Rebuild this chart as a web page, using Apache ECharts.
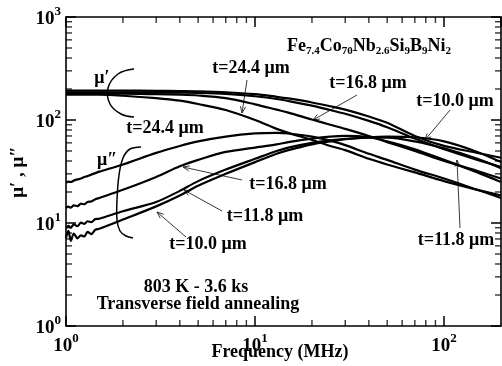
<!DOCTYPE html>
<html><head><meta charset="utf-8">
<script src="https://cdn.jsdelivr.net/npm/echarts@6/dist/echarts.min.js"></script>
<style>html,body{margin:0;padding:0;background:#fff}#c{width:502px;height:366px}</style>
</head><body><div id="c"></div>
<script>
// ---------- data (frequency in MHz, permeability values) ----------
const lowFreqMHz = [1, 1.03, 1.06, 1.1, 1.15, 1.2, 1.25, 1.3, 1.36, 1.43];
const freqMHz = [1.5, 2, 3, 4, 5, 7, 10, 13, 15, 20, 25, 30, 40, 50, 70, 100, 150, 200];

// μ′ (real part)
const muReal_t100_low = [193, 193, 193, 193, 193, 193, 193, 193, 193, 193];
const muReal_t100 = [193, 193, 192, 191, 190, 186, 178, 168, 162, 148, 136, 126, 108, 94, 70, 56, 48, 43];
const muReal_t118_low = [186, 186, 186, 186, 186, 186, 186, 186, 186, 186];
const muReal_t118 = [186, 186, 185, 184, 183, 179, 170, 160, 153, 138, 125, 115, 98, 85, 66, 52, 41, 35];
const muReal_t168_low = [180, 180, 180, 180, 180, 180, 180, 180, 180, 180];
const muReal_t168 = [180, 180, 178, 176, 173, 163, 142, 126, 118, 101, 90, 82, 70, 61, 50, 40, 32, 27];
const muReal_t244_low = [176, 176, 176, 176, 176, 176, 176, 176, 176, 176];
const muReal_t244 = [176, 172, 163, 154, 143, 125, 100, 82, 75, 64, 56, 51, 42, 37, 31, 25.5, 21, 18.5];

// μ″ (imaginary part)
const muImag_t244_low = [24.5, 25.2, 25, 25.8, 26.5, 27, 28, 28.5, 29.5, 30.5];
const muImag_t244 = [31.5, 37, 48, 56, 62, 69, 74, 75, 74, 69, 63, 57, 47, 41, 33, 27, 21, 17.5];
const muImag_t168_low = [14, 14.4, 14.1, 14.8, 14.6, 15.4, 15.2, 16, 16.2, 17];
const muImag_t168 = [17.5, 21, 28, 35.5, 41, 49, 54, 58, 61, 66, 69, 70, 68, 62, 52, 41, 31, 25];
const muImag_t118_low = [8.9, 9.4, 9.0, 9.7, 9.3, 10.1, 9.8, 10.4, 10.2, 10.9];
const muImag_t118 = [11, 13, 16, 20.5, 25.5, 33, 42, 50, 54, 60, 63.5, 65.5, 67.5, 67.5, 62, 53, 42, 34];
const muImag_t100_low = [7.2, 8.4, 6.7, 7.9, 7.1, 7.6, 7.4, 8.2, 7.8, 8.6];
const muImag_t100 = [8.8, 10.8, 14.5, 18.5, 23, 30, 39, 47, 51, 58, 62, 65, 68, 69, 68, 62, 49, 39];

// tick values
const xMinorTicks = [2, 3, 4, 5, 6, 7, 8, 9, 20, 30, 40, 50, 60, 70, 80, 90];
const yMinorTicks = [2, 3, 4, 5, 6, 7, 8, 9, 20, 30, 40, 50, 60, 70, 80, 90, 200, 300, 400, 500, 600, 700, 800, 900];

// ---------- chart ----------
const FONT = 'Liberation Serif';
const X_MIN = 1, X_MAX = 200, Y_MIN = 1, Y_MAX = 1000;
function pairs(lowV, mainV) {
  return lowFreqMHz.map((f, i) => [f, lowV[i]]).concat(freqMHz.map((f, i) => [f, mainV[i]]));
}
const curves = [
  ['μ′ t=10.0 μm', muReal_t100_low, muReal_t100],
  ['μ′ t=11.8 μm', muReal_t118_low, muReal_t118],
  ['μ′ t=16.8 μm', muReal_t168_low, muReal_t168],
  ['μ′ t=24.4 μm', muReal_t244_low, muReal_t244],
  ['μ″ t=24.4 μm', muImag_t244_low, muImag_t244],
  ['μ″ t=16.8 μm', muImag_t168_low, muImag_t168],
  ['μ″ t=11.8 μm', muImag_t118_low, muImag_t118],
  ['μ″ t=10.0 μm', muImag_t100_low, muImag_t100]
];

function powLabel(v) {
  const e = Math.log10(v);
  if (Math.abs(e - Math.round(e)) > 1e-6) return '';
  return '{b|10}{s|' + Math.round(e) + '}';
}
const labelRich = {
  b: { fontFamily: FONT, fontWeight: 'bold', fontSize: 19, color: '#000', lineHeight: 24, verticalAlign: 'bottom' },
  s: { fontFamily: FONT, fontWeight: 'bold', fontSize: 13, color: '#000', lineHeight: 12, verticalAlign: 'top' }
};
const axisLineStyle = { color: '#000', width: 1.6 };
const tickStyle = { color: '#000', width: 1.5 };

function makeX(pos, showLabel) {
  return {
    type: 'log', logBase: 10, min: X_MIN, max: X_MAX, position: pos,
    axisLine: { show: true, lineStyle: axisLineStyle },
    axisTick: { show: true, inside: true, length: 10, lineStyle: tickStyle },
    axisLabel: { show: showLabel, formatter: powLabel, rich: labelRich, margin: 6, showMaxLabel: false },
    splitLine: { show: false }
  };
}
function makeY(pos, showLabel) {
  return {
    type: 'log', logBase: 10, min: Y_MIN, max: Y_MAX, position: pos,
    axisLine: { show: true, lineStyle: axisLineStyle },
    axisTick: { show: true, inside: true, length: 10, lineStyle: tickStyle },
    axisLabel: { show: showLabel, formatter: powLabel, rich: labelRich, margin: 5 },
    splitLine: { show: false }
  };
}

function tickSeries(data, size, offset) {
  return { type: 'scatter', xAxisIndex: 0, yAxisIndex: 0, data: data, symbol: 'rect',
    symbolSize: size, symbolOffset: offset, itemStyle: { color: '#000' }, silent: true, clip: false, z: 3 };
}

function arrow(x0, y0, x1, y1) {
  const a = Math.atan2(y1 - y0, x1 - x0), L = 7, w = 0.38;
  return { type: 'group', silent: true, z: 50, children: [
    { type: 'line', shape: { x1: x0, y1: y0, x2: x1, y2: y1 }, style: { stroke: '#222', lineWidth: 0.9 } },
    { type: 'polyline', shape: { points: [[x1 - L * Math.cos(a - w), y1 - L * Math.sin(a - w)], [x1, y1], [x1 - L * Math.cos(a + w), y1 - L * Math.sin(a + w)]] },
      style: { stroke: '#222', lineWidth: 0.9, fill: null } }
  ] };
}
function txt(x, y, text, size, extra) {
  return { type: 'text', x: x, y: y, z: 60, silent: true,
    style: Object.assign({ text: text, fontFamily: FONT, fontWeight: 'bold', fontSize: size, fill: '#000', align: 'center', verticalAlign: 'middle' }, extra || {}) };
}

const chart = echarts.init(document.getElementById('c'), null, { renderer: 'canvas' });
const series = curves.map(c => ({
  name: c[0], type: 'line', xAxisIndex: 0, yAxisIndex: 0,
  data: pairs(c[1], c[2]), showSymbol: false, symbol: 'none', smooth: 0.3,
  lineStyle: { color: '#000', width: 2.2 }, silent: true, z: 5
}));
// minor ticks on all four sides, placed through the axes' own scales
series.push(tickSeries(xMinorTicks.map(v => [v, Y_MIN]), [1.4, 6], [0, -3]));
series.push(tickSeries(xMinorTicks.map(v => [v, Y_MAX]), [1.4, 6], [0, 3]));
series.push(tickSeries(yMinorTicks.map(v => [X_MIN, v]), [6, 1.4], [3, 0]));
series.push(tickSeries(yMinorTicks.map(v => [X_MAX, v]), [6, 1.4], [-3, 0]));

chart.setOption({
  animation: false,
  backgroundColor: '#fff',
  grid: { left: 66, right: 1, top: 17, bottom: 40 },
  xAxis: [makeX('bottom', true), makeX('top', false)],
  yAxis: [makeY('left', true), makeY('right', false)],
  series: series,
  graphic: [
    txt(369, 47, '{n|Fe}{s|7.4}{n|Co}{s|70}{n|Nb}{s|2.6}{n|Si}{s|9}{n|B}{s|9}{n|Ni}{s|2}', 18, {
      rich: {
        n: { fontFamily: FONT, fontWeight: 'bold', fontSize: 18, lineHeight: 20, verticalAlign: 'top', fill: '#000' },
        s: { fontFamily: FONT, fontWeight: 'bold', fontSize: 11, lineHeight: 12, verticalAlign: 'bottom', fill: '#000' }
      }
    }),
    txt(251, 68, 't=24.4 μm', 18),
    txt(368, 83, 't=16.8 μm', 18),
    txt(455, 101, 't=10.0 μm', 18),
    txt(165, 128, 't=24.4 μm', 18),
    txt(288, 184, 't=16.8 μm', 18),
    txt(265, 216, 't=11.8 μm', 18),
    txt(208, 244, 't=10.0 μm', 18),
    txt(456, 240, 't=11.8 μm', 18),
    txt(196, 287, '803 K - 3.6 ks', 18),
    txt(198, 304, 'Transverse field annealing', 18),
    txt(280, 352, 'Frequency (MHz)', 18),
    txt(102, 78, 'μ′', 18),
    txt(107, 160, 'μ″', 18),
    Object.assign(txt(18, 172, 'μ′ , μ″', 19), { rotation: Math.PI / 2 }),
    arrow(247, 80, 242, 113),
    arrow(357, 95, 313, 120),
    arrow(450, 110, 425, 140),
    arrow(242, 180, 183, 167),
    arrow(222, 211, 184, 190),
    arrow(186, 237, 157, 212),
    arrow(460, 228, 457, 160),
    { type: 'polyline', z: 40, silent: true,
      shape: { points: [[134, 69], [118, 74], [108, 88], [110, 104], [121, 114], [134, 117]], smooth: 0.4 },
      style: { stroke: '#000', lineWidth: 1.5, fill: null } },
    { type: 'polyline', z: 40, silent: true,
      shape: { points: [[141, 147], [130, 149], [123, 158], [119, 175], [117, 200], [117, 220], [120, 231], [126, 236], [133, 238]], smooth: 0.3 },
      style: { stroke: '#000', lineWidth: 1.5, fill: null } }
  ]
});
</script>
</body></html>
